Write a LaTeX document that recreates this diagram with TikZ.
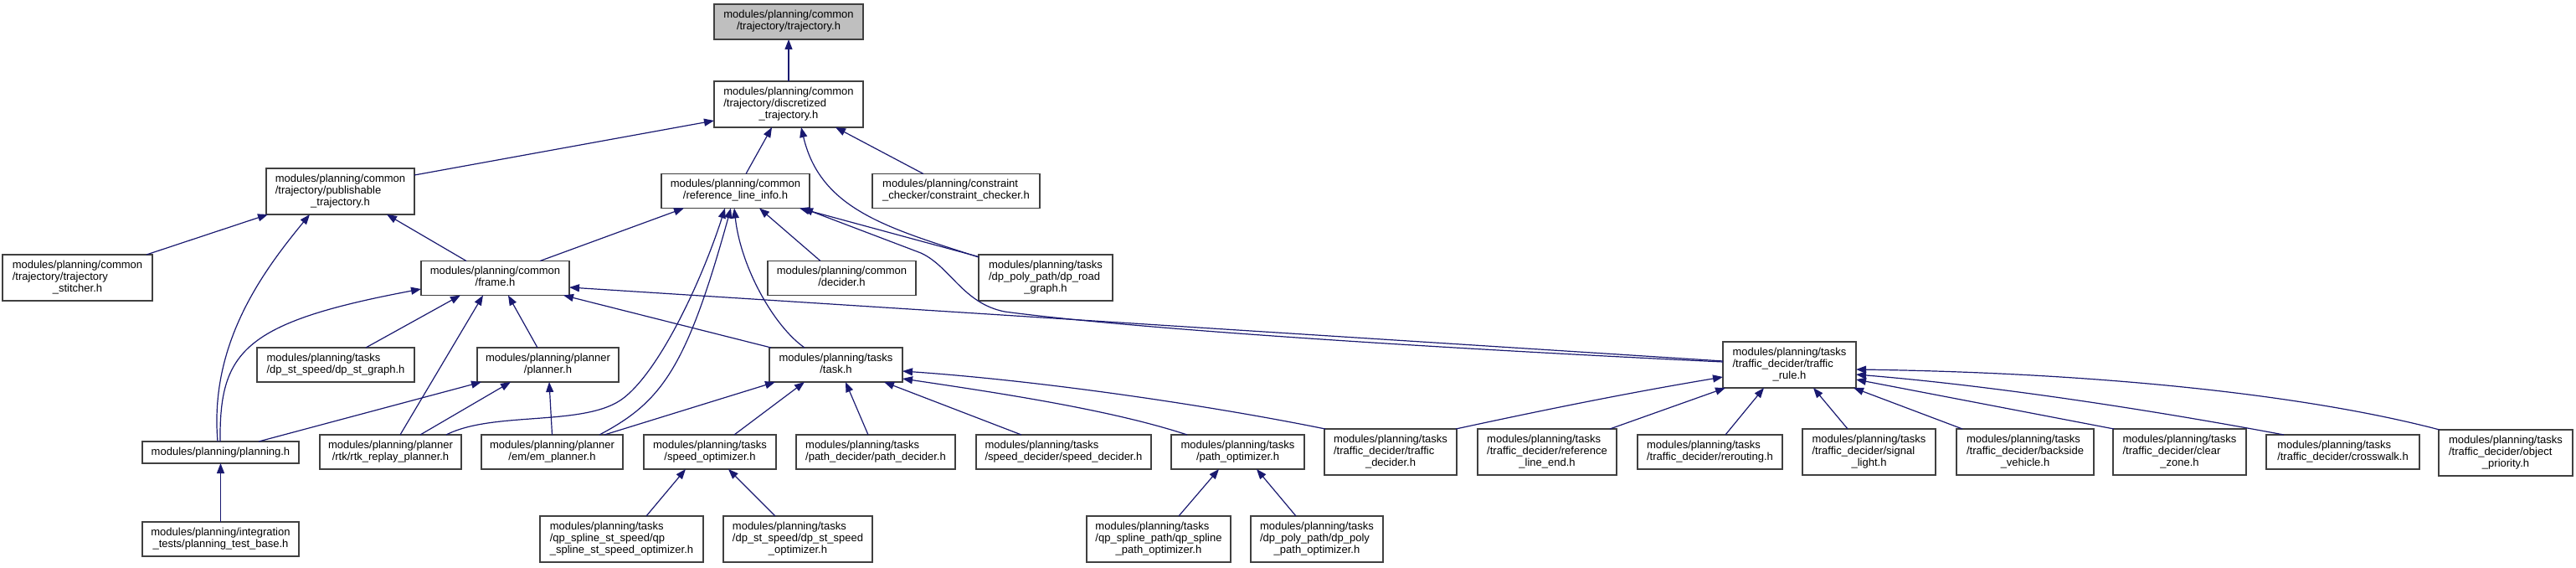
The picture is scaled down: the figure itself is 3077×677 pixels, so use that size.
\documentclass[tikz,border=0pt]{standalone}
\usepackage{fontspec}
\setmainfont{Liberation Sans}
\usetikzlibrary{arrows.meta}
\definecolor{edgeblue}{HTML}{191970}
\definecolor{boxline}{HTML}{404040}
\definecolor{rootfill}{HTML}{BFBFBF}
\newcommand{\lbl}[2]{\begin{tabular}{@{}l@{}}#1\\\multicolumn{1}{@{}c@{}}{#2}\end{tabular}}
\tikzset{
  box/.style={draw=boxline, line width=1.6pt, fill=white, inner sep=0pt, outer sep=0pt, font=\fontsize{13}{14}\selectfont},
  sz/.style 2 args={minimum width=#1pt, minimum height=#2pt},
  conn/.style={draw=edgeblue, line width=1.2pt, -{Triangle[length=12pt,width=9pt]}}
}
\begin{document}
\begin{tikzpicture}[x=1pt,y=-1pt]
\useasboundingbox (0,0) rectangle (3077,677);
% nodes
\node[box, sz={178}{42}, fill=rootfill] (traj) at (942,26) {\lbl{modules/planning/common}{/trajectory/trajectory.h}};
\node[box, sz={178}{55}] (disc) at (942,124.5) {\lbl{modules/planning/common\\/trajectory/discretized}{\_trajectory.h}};
\node[box, sz={177}{55}] (pub) at (406.5,228.5) {\lbl{modules/planning/common\\/trajectory/publishable}{\_trajectory.h}};
\node[box, sz={177}{41}] (rli) at (878.5,228) {\lbl{modules/planning/common}{/reference\_line\_info.h}};
\node[box, sz={200}{41}] (cc) at (1142,228) {\lbl{modules/planning/constraint}{\_checker/constraint\_checker.h}};
\node[box, sz={179}{55}] (stitch) at (92.5,331.5) {\lbl{modules/planning/common\\/trajectory/trajectory}{\_stitcher.h}};
\node[box, sz={177}{41}] (frame) at (591.5,332) {\lbl{modules/planning/common}{/frame.h}};
\node[box, sz={177}{41}] (decider) at (1005.5,332) {\lbl{modules/planning/common}{/decider.h}};
\node[box, sz={160}{55}] (dprg) at (1249,331.5) {\lbl{modules/planning/tasks\\/dp\_poly\_path/dp\_road}{\_graph.h}};
\node[box, sz={159}{55}] (trule) at (2137.5,435.5) {\lbl{modules/planning/tasks\\/traffic\_decider/traffic}{\_rule.h}};
\node[box, sz={188}{41}] (dpstg) at (401,435.5) {\lbl{modules/planning/tasks}{/dp\_st\_speed/dp\_st\_graph.h}};
\node[box, sz={169}{41}] (planner) at (654.5,435.5) {\lbl{modules/planning/planner}{/planner.h}};
\node[box, sz={159}{41}] (task) at (998.5,435.5) {\lbl{modules/planning/tasks}{/task.h}};
\node[box, sz={187}{26}] (planning) at (263.5,540) {modules/planning/planning.h};
\node[box, sz={169}{41}] (rtk) at (466.5,539.5) {\lbl{modules/planning/planner}{/rtk/rtk\_replay\_planner.h}};
\node[box, sz={169}{41}] (em) at (659.5,539.5) {\lbl{modules/planning/planner}{/em/em\_planner.h}};
\node[box, sz={158}{41}] (spopt) at (848,539.5) {\lbl{modules/planning/tasks}{/speed\_optimizer.h}};
\node[box, sz={190}{41}] (pathdec) at (1046,539.5) {\lbl{modules/planning/tasks}{/path\_decider/path\_decider.h}};
\node[box, sz={209}{41}] (spdec) at (1270.5,539.5) {\lbl{modules/planning/tasks}{/speed\_decider/speed\_decider.h}};
\node[box, sz={159}{41}] (pathopt) at (1478.5,539.5) {\lbl{modules/planning/tasks}{/path\_optimizer.h}};
\node[box, sz={158}{55}] (trdec) at (1661,539.5) {\lbl{modules/planning/tasks\\/traffic\_decider/traffic}{\_decider.h}};
\node[box, sz={166}{55}] (rle) at (1848,539.5) {\lbl{modules/planning/tasks\\/traffic\_decider/reference}{\_line\_end.h}};
\node[box, sz={173}{41}] (rerouting) at (2042.5,539.5) {\lbl{modules/planning/tasks}{/traffic\_decider/rerouting.h}};
\node[box, sz={159}{55}] (signal) at (2232.5,539.5) {\lbl{modules/planning/tasks\\/traffic\_decider/signal}{\_light.h}};
\node[box, sz={164}{55}] (backside) at (2419,539.5) {\lbl{modules/planning/tasks\\/traffic\_decider/backside}{\_vehicle.h}};
\node[box, sz={159}{55}] (clear) at (2603.5,539.5) {\lbl{modules/planning/tasks\\/traffic\_decider/clear}{\_zone.h}};
\node[box, sz={183}{41}] (crosswalk) at (2798.5,539.5) {\lbl{modules/planning/tasks}{/traffic\_decider/crosswalk.h}};
\node[box, sz={160}{55}] (objprio) at (2993,540.5) {\lbl{modules/planning/tasks\\/traffic\_decider/object}{\_priority.h}};
\node[box, sz={187}{41}] (ptb) at (263.5,643.5) {\lbl{modules/planning/integration}{\_tests/planning\_test\_base.h}};
\node[box, sz={195}{55}] (qpsst) at (742.5,643.5) {\lbl{modules/planning/tasks\\/qp\_spline\_st\_speed/qp}{\_spline\_st\_speed\_optimizer.h}};
\node[box, sz={178}{55}] (dpsso) at (953,643.5) {\lbl{modules/planning/tasks\\/dp\_st\_speed/dp\_st\_speed}{\_optimizer.h}};
\node[box, sz={172}{55}] (qpsp) at (1384,643.5) {\lbl{modules/planning/tasks\\/qp\_spline\_path/qp\_spline}{\_path\_optimizer.h}};
\node[box, sz={158}{55}] (dppp) at (1573,643.5) {\lbl{modules/planning/tasks\\/dp\_poly\_path/dp\_poly}{\_path\_optimizer.h}};
% edges (child -> included header)
\draw[conn] (disc.north) -- (traj.south);
\draw[conn] ([yshift=19.5pt]pub.east) -- ([yshift=-19.5pt]disc.west);
\draw[conn] ([xshift=12.5pt]rli.north) -- ([xshift=-20pt]disc.south);
\draw[conn] ([yshift=24.5pt]dprg.west) .. controls (1060,272) and (980,250) .. ([xshift=15pt]disc.south);
\draw[conn] ([xshift=-39pt]cc.north) -- ([xshift=56pt]disc.south);
\draw[conn] ([xshift=82.5pt]stitch.north) -- ([xshift=-86.5pt]pub.south);
\draw[conn] ([xshift=-3.5pt]planning.north) .. controls (250,410) and (314,324) .. ([xshift=-36.5pt]pub.south);
\draw[conn] ([xshift=-34.5pt]frame.north) -- ([xshift=55.5pt]pub.south);
\draw[conn] ([xshift=53.5pt]frame.north) -- ([xshift=-61.5pt]rli.south);
\draw[conn] ([xshift=-25.5pt]decider.north) -- ([xshift=28.5pt]rli.south);
\draw[conn] ([yshift=25pt]dprg.west) -- ([xshift=76.5pt]rli.south);
\draw[conn] ([yshift=3.5pt]trule.west) .. controls (1700,415) and (1350,392) .. (1200,372) .. controls (1150,362) and (1135,318) .. (1100,302) -- ([xshift=80.5pt]rli.south);
\draw[conn] ([yshift=4.5pt]trule.west) -- ([yshift=-11pt]frame.east);
\draw[conn] ([xshift=66.5pt]rtk.north) .. controls (590,490) and (700,510) .. (745,475) .. controls (790,440) and (840,330) .. ([xshift=-12.5pt]rli.south);
\draw[conn] ([xshift=56.5pt]em.north) .. controls (790,480) and (820,440) .. ([xshift=-5.5pt]rli.south);
\draw[conn] ([xshift=-37.5pt]task.north) .. controls (925,390) and (885,320) .. ([xshift=-1.5pt]rli.south);
\draw[conn] ([xshift=-0.5pt]planning.north) .. controls (262,420) and (290,385) .. ([yshift=-13pt]frame.west);
\draw[conn] ([xshift=36pt]dpstg.north) -- ([xshift=-41.5pt]frame.south);
\draw[conn] ([xshift=11.5pt]rtk.north) -- ([xshift=-14.5pt]frame.south);
\draw[conn] ([xshift=-12.5pt]planner.north) -- ([xshift=15.5pt]frame.south);
\draw[conn] ([xshift=-77.5pt]task.north) -- ([xshift=81.5pt]frame.south);
\draw[conn] ([xshift=62.5pt]em.north) -- ([xshift=-72.5pt]task.south);
\draw[conn] ([xshift=45.5pt]planning.north) -- ([xshift=-79.5pt]planner.south);
\draw[conn] ([xshift=35.5pt]rtk.north) -- ([xshift=-44.5pt]planner.south);
\draw[conn] (em.north) -- ([xshift=1.5pt]planner.south);
\draw[conn] ([xshift=29pt]spopt.north) -- ([xshift=-37.5pt]task.south);
\draw[conn] ([xshift=-9pt]pathdec.north) -- ([xshift=11.5pt]task.south);
\draw[conn] ([xshift=-50.5pt]spdec.north) -- ([xshift=57.5pt]task.south);
\draw[conn] ([xshift=-60.5pt]pathopt.north) .. controls (1330,490) and (1200,470) .. ([yshift=-16.5pt]task.east);
\draw[conn] ([xshift=-78pt]trdec.north) .. controls (1450,485) and (1250,455) .. ([yshift=-7.5pt]task.east);
\draw[conn] ([xshift=78pt]trdec.north) .. controls (1850,488) and (1950,468) .. ([yshift=-14.5pt]trule.west);
\draw[conn] ([xshift=75pt]rle.north) -- ([xshift=3pt]trule.south west);
\draw[conn] ([xshift=18.5pt]rerouting.north) -- ([xshift=-30.5pt]trule.south);
\draw[conn] ([xshift=-25.5pt]signal.north) -- ([xshift=28.5pt]trule.south);
\draw[conn] ([xshift=-75pt]backside.north) -- ([xshift=-3pt]trule.south east);
\draw[conn] ([xshift=-78.5pt]clear.north) -- ([yshift=-17.5pt]trule.east);
\draw[conn] ([xshift=-70.5pt]crosswalk.north) .. controls (2600,495) and (2400,462) .. ([yshift=-11.5pt]trule.east);
\draw[conn] ([xshift=-79pt]objprio.north) .. controls (2750,470) and (2500,445) .. ([yshift=-5.5pt]trule.east);
\draw[conn] ([xshift=29.5pt]qpsst.north) -- ([xshift=-29pt]spopt.south);
\draw[conn] ([xshift=-27pt]dpsso.north) -- ([xshift=22pt]spopt.south);
\draw[conn] ([xshift=24pt]qpsp.north) -- ([xshift=-22.5pt]pathopt.south);
\draw[conn] ([xshift=-25pt]dppp.north) -- ([xshift=22.5pt]pathopt.south);
\draw[conn] (ptb.north) -- (planning.south);
\end{tikzpicture}
\end{document}
